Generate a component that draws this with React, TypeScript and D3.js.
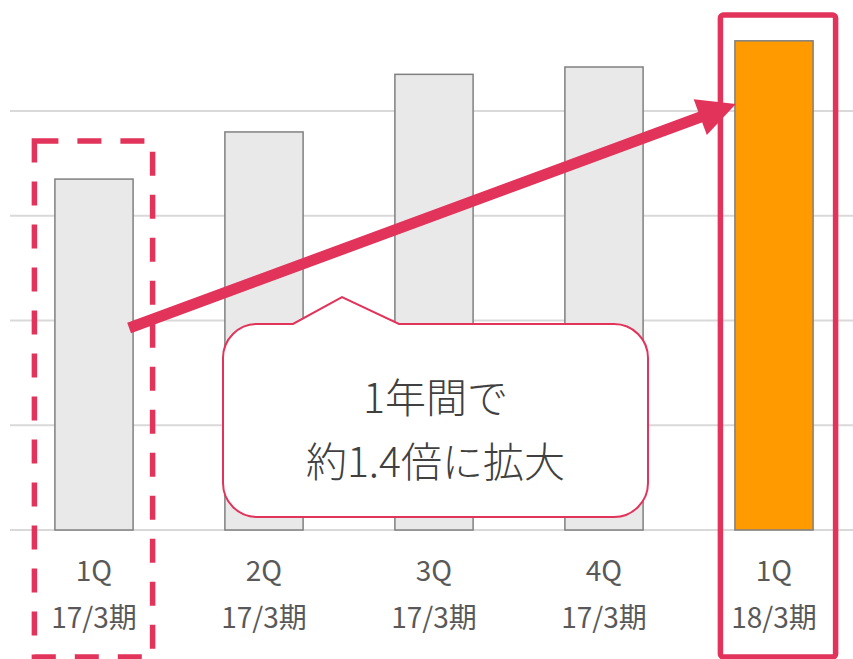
import React, { useEffect, useRef } from "react";
import * as d3 from "d3";

// 四半期ラベル（2行）
const quarters = ["1Q", "2Q", "3Q", "4Q", "1Q"];
const periods = ["17/3期", "17/3期", "17/3期", "17/3期", "18/3期"];
const values = [3.35, 3.8, 4.35, 4.42, 4.67];
const gridTicks = [0, 1, 2, 3, 4];
const calloutLines = ["1年間で", "約1.4倍に拡大"];

const width = 853;
const height = 659;
const accent = "#e2335a";

export default function App() {
  const ref = useRef<SVGSVGElement>(null);

  useEffect(() => {
    const svg = d3.select(ref.current);
    svg.selectAll("*").remove();

    const keys = quarters.map((q, i) => i);

    const x = d3.scaleBand<number>()
      .domain(keys)
      .range([9, 859])
      .paddingInner(0.54)
      .paddingOuter(0.27);

    const y = d3.scaleLinear()
      .domain([0, 5])
      .range([530, 530 - 5 * 104.75]);

    // grid
    svg.append("g")
      .selectAll("line")
      .data(gridTicks)
      .enter().append("line")
      .attr("x1", 10)
      .attr("x2", width)
      .attr("y1", d => y(d))
      .attr("y2", d => y(d))
      .attr("stroke", "#d9d9d9")
      .attr("stroke-width", 2);

    // bars
    svg.append("g")
      .selectAll("rect")
      .data(values)
      .enter().append("rect")
      .attr("x", (d, i) => x(i)!)
      .attr("y", d => y(d))
      .attr("width", x.bandwidth())
      .attr("height", d => y(0) - y(d))
      .attr("fill", (d, i) => i === values.length - 1 ? "#ff9a00" : "#e9e9e9")
      .attr("stroke", "#808080")
      .attr("stroke-width", 1.5);

    // axis labels
    const labels = svg.append("g")
      .style("font-family", "'Noto Sans CJK JP', 'Noto Sans', sans-serif")
      .style("font-size", "28px")
      .attr("fill", "#595959")
      .attr("text-anchor", "middle");
    labels.selectAll("text.q")
      .data(quarters)
      .enter().append("text")
      .attr("class", "q")
      .attr("x", (d, i) => x(i)! + x.bandwidth() / 2)
      .attr("y", 581)
      .text(d => d);
    labels.selectAll("text.p")
      .data(periods)
      .enter().append("text")
      .attr("class", "p")
      .attr("x", (d, i) => x(i)! + x.bandwidth() / 2)
      .attr("y", 628)
      .text(d => d);

    // dashed box around first bar
    const first = x(0)!;
    svg.append("rect")
      .attr("x", first - 20.5)
      .attr("y", 141)
      .attr("width", x.bandwidth() + 40)
      .attr("height", 516)
      .attr("fill", "none")
      .attr("stroke", accent)
      .attr("stroke-width", 5.5)
      .attr("stroke-dasharray", "24 19");

    // solid box around last bar
    const last = x(values.length - 1)!;
    svg.append("rect")
      .attr("x", last - 14.5)
      .attr("y", 15)
      .attr("width", x.bandwidth() + 37)
      .attr("height", 642)
      .attr("rx", 3)
      .attr("fill", "none")
      .attr("stroke", accent)
      .attr("stroke-width", 5.5);

    // arrow
    const x0 = first + x.bandwidth() - 4, y0 = 328;
    const x1 = last + 1, y1 = 104;
    const dx = x1 - x0, dy = y1 - y0, len = Math.hypot(dx, dy);
    const ux = dx / len, uy = dy / len;
    const headLen = 38, headW = 19;
    const bx = x1 - ux * headLen, by = y1 - uy * headLen;
    svg.append("line")
      .attr("x1", x0).attr("y1", y0)
      .attr("x2", bx + ux * 4).attr("y2", by + uy * 4)
      .attr("stroke", accent)
      .attr("stroke-width", 11);
    svg.append("polygon")
      .attr("points", [
        [x1, y1],
        [bx - uy * headW, by + ux * headW],
        [bx + uy * headW, by - ux * headW]
      ].map(p => p.join(",")).join(" "))
      .attr("fill", accent);

    // callout
    const cl = 223, cr = 648, ct = 324, cb = 517, r = 34;
    const p = d3.path();
    p.moveTo(cl + r, ct);
    p.lineTo(293, ct);
    p.lineTo(342, 297);
    p.lineTo(399, ct);
    p.lineTo(cr - r, ct);
    p.arcTo(cr, ct, cr, ct + r, r);
    p.lineTo(cr, cb - r);
    p.arcTo(cr, cb, cr - r, cb, r);
    p.lineTo(cl + r, cb);
    p.arcTo(cl, cb, cl, cb - r, r);
    p.lineTo(cl, ct + r);
    p.arcTo(cl, ct, cl + r, ct, r);
    p.closePath();
    svg.append("path")
      .attr("d", p.toString())
      .attr("fill", "#ffffff")
      .attr("stroke", accent)
      .attr("stroke-width", 2);

    svg.append("g")
      .style("font-family", "'Noto Sans CJK JP', 'Noto Sans', sans-serif")
      .style("font-size", "41px")
      .style("font-weight", 300)
      .attr("fill", "#404040")
      .attr("text-anchor", "middle")
      .selectAll("text")
      .data(calloutLines)
      .enter().append("text")
      .attr("x", (cl + cr) / 2)
      .attr("y", (d, i) => 413 + i * 64)
      .text(d => d);
  }, []);

  return (
    <svg
      ref={ref}
      width={width}
      height={height}
      style={{ position: "fixed", left: 0, top: 0, background: "#fff" }}
    />
  );
}
